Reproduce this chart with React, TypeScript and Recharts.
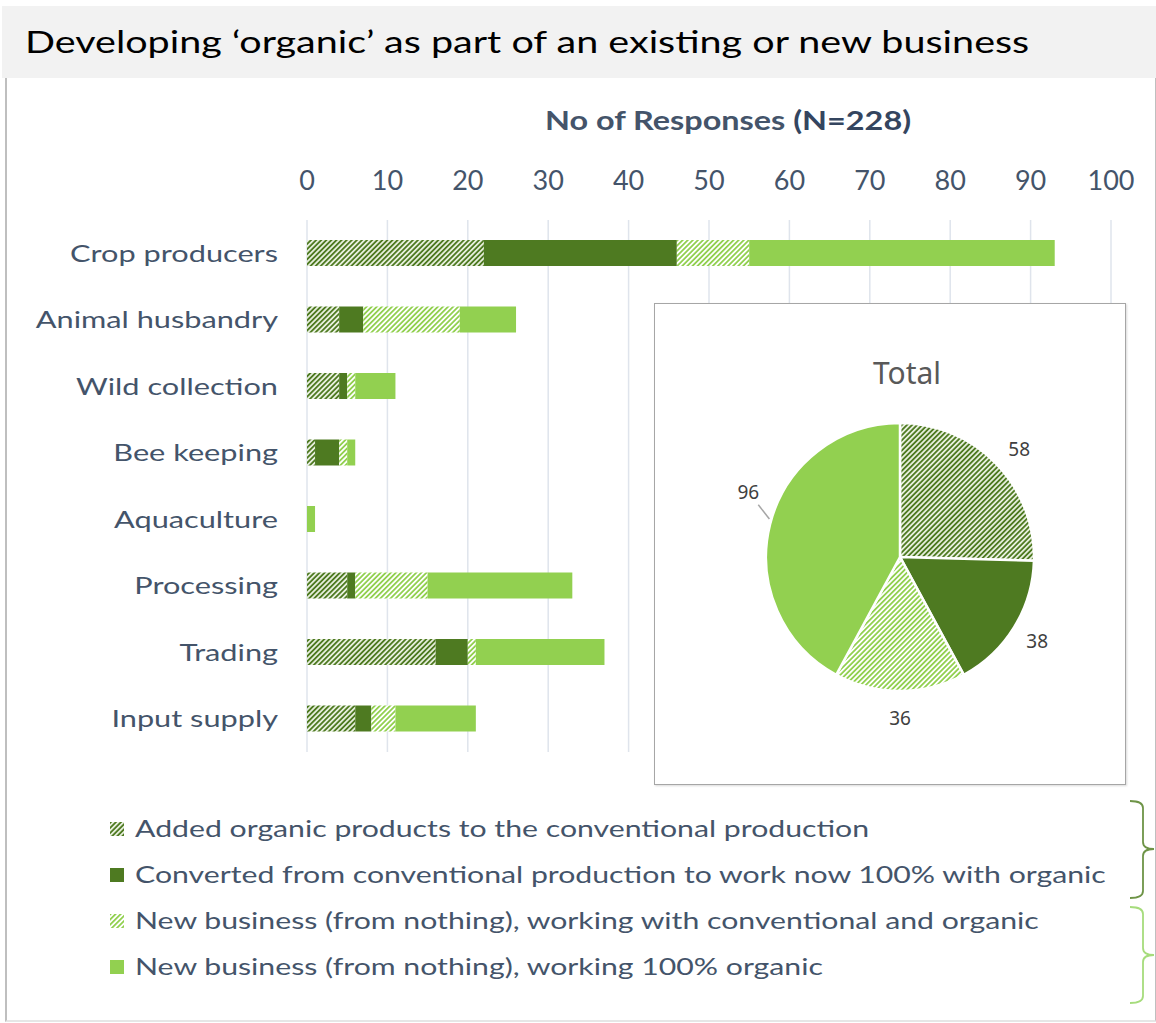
import React from 'react';
import { BarChart, Bar, XAxis, YAxis, CartesianGrid, PieChart, Pie, Cell } from 'recharts';

const categories = ['Crop producers', 'Animal husbandry', 'Wild collection', 'Bee keeping', 'Aquaculture', 'Processing', 'Trading', 'Input supply'];
const addedOrganic = [22, 4, 4, 1, 0, 5, 16, 6];
const convertedOrganic = [24, 3, 1, 3, 0, 1, 4, 2];
const newMixed = [9, 12, 1, 1, 0, 9, 1, 3];
const newOrganic = [38, 7, 5, 1, 1, 18, 16, 10];
const xTicks = [0, 10, 20, 30, 40, 50, 60, 70, 80, 90, 100];
const seriesNames = [
  'Added organic products to the conventional production',
  'Converted from conventional production to work now 100% with organic',
  'New business (from nothing), working with conventional and organic',
  'New business (from nothing), working 100% organic',
];
const pieTotals = [58, 38, 36, 96];

const fills = ['url(#hatchDark)', '#4e7a21', 'url(#hatchLight)', '#92d050'];
const seriesKeys = ['added', 'converted', 'newMixed', 'newOrganic'];

const barData = categories.map((c, i) => ({
  category: c,
  added: addedOrganic[i],
  converted: convertedOrganic[i],
  newMixed: newMixed[i],
  newOrganic: newOrganic[i],
}));

const pieData = seriesNames.map((n, i) => ({ name: n, value: pieTotals[i] }));

const TEXT = '#44546a';
const FONT = 'Lato, "Open Sans", sans-serif';
const STRETCH = 1.28;
const RAD = Math.PI / 180;

const PieLabel = (props: any) => {
  const { cx, cy, midAngle, outerRadius, value, percent } = props;
  const big = percent > 0.4;
  const ang = big ? midAngle - 9 : midAngle - (percent > 0.2 ? 2 : 0);
  const r = outerRadius + (big ? 31 : 27);
  const x = cx + r * Math.cos(-ang * RAD);
  const y = cy + r * Math.sin(-ang * RAD);
  const lx1 = cx + (outerRadius + 2) * Math.cos(-(midAngle - 2) * RAD);
  const ly1 = cy + (outerRadius + 2) * Math.sin(-(midAngle - 2) * RAD);
  const lx2 = cx + (outerRadius + 17) * Math.cos(-(midAngle - 6) * RAD);
  const ly2 = cy + (outerRadius + 17) * Math.sin(-(midAngle - 6) * RAD);
  return (
    <g>
      {big && <line x1={lx1} y1={ly1} x2={lx2} y2={ly2} stroke="#a6a6a6" strokeWidth={1.5} />}
      <text x={x} y={y} textAnchor="middle" dominantBaseline="central" fill="#404040" fontSize={19} fontFamily='"Noto Sans", sans-serif'>
        {value}
      </text>
    </g>
  );
};

const CategoryTick = (props: any) => {
  const { x, y, payload } = props;
  return (
    <text transform={`translate(${x},${y}) scale(${STRETCH},1)`} textAnchor="end" dy="0.36em" fill={TEXT} fontSize={24} fontFamily={FONT}>
      {payload.value}
    </text>
  );
};

export default function App() {
  return (
    <div style={{ position: 'absolute', left: 0, top: 0, width: 1156, height: 1023, background: '#fff', fontFamily: FONT, overflow: 'hidden' }}>
      <svg width={0} height={0} style={{ position: 'absolute' }}>
        <defs>
          <pattern id="hatchDark" patternUnits="userSpaceOnUse" width={3.6} height={3.6} patternTransform="rotate(45)">
            <rect x={0} y={0} width={3.6} height={3.6} fill="#e6eedc" />
            <line x1={0.9} y1={0} x2={0.9} y2={3.6} stroke="#4e7a21" strokeWidth={1.8} />
          </pattern>
          <pattern id="hatchLight" patternUnits="userSpaceOnUse" width={3.6} height={3.6} patternTransform="rotate(45)">
            <rect x={0} y={0} width={3.6} height={3.6} fill="#ffffff" />
            <line x1={0.9} y1={0} x2={0.9} y2={3.6} stroke="#92d050" strokeWidth={1.8} />
          </pattern>
        </defs>
      </svg>

      {/* title band */}
      <div style={{ position: 'absolute', left: 2, top: 6, width: 1154, height: 72, background: '#f2f2f2' }} />
      {/* frame */}
      <div style={{ position: 'absolute', left: 5, top: 78, width: 1148, height: 942, borderLeft: '2px solid #bfbfbf', borderRight: '2px solid #bfbfbf', borderBottom: '2px solid #e6e6e6' }} />

      <div style={{ position: 'absolute', left: 0, top: 0 }}>
        <BarChart width={1156} height={800} data={barData} layout="vertical" margin={{ top: 150, right: 45, bottom: 48, left: 0 }} barSize={26}>
          <CartesianGrid horizontal={false} vertical stroke="#dfe4ec" strokeWidth={1.5} />
          <XAxis
            type="number"
            orientation="top"
            domain={[0, 100]}
            ticks={xTicks}
            height={70}
            axisLine={false}
            tickLine={false}
            tickMargin={24}
            tick={{ fill: TEXT, fontSize: 27, fontFamily: FONT }}
          />
          <YAxis
            type="category"
            dataKey="category"
            width={307}
            axisLine={false}
            tickLine={false}
            tickMargin={23}
            tick={<CategoryTick />}
          />
          {seriesKeys.map((k, i) => (
            <Bar key={k} dataKey={k} name={seriesNames[i]} stackId="a" fill={fills[i]} isAnimationActive={false} />
          ))}
        </BarChart>
      </div>

      {/* pie inset */}
      <div style={{ position: 'absolute', left: 654, top: 303, width: 470, height: 480, border: '1.5px solid #a6a6a6', background: '#fff', boxShadow: '1px 1px 2px rgba(0,0,0,0.15)' }}>
        <div style={{ position: 'absolute', left: 0, width: 470, top: 48, textAlign: 'center', fontSize: 30, color: '#595959', fontFamily: '"Noto Sans", sans-serif', paddingLeft: 34, boxSizing: 'border-box' }}>
          Total
        </div>
        <div style={{ position: 'absolute', left: 0, top: 0 }}>
          <PieChart width={470} height={480} margin={{ top: 0, right: 0, bottom: 0, left: 0 }}>
            <Pie
              data={pieData}
              dataKey="value"
              cx={245}
              cy={253}
              outerRadius={134}
              startAngle={90}
              endAngle={-270}
              stroke="#ffffff"
              strokeWidth={2.5}
              label={PieLabel}
              labelLine={false}
              isAnimationActive={false}
            >
              {pieData.map((d, i) => (
                <Cell key={d.name} fill={fills[i]} />
              ))}
            </Pie>
          </PieChart>
        </div>
      </div>

      {/* texts, legend and brackets */}
      <svg width={1156} height={1023} style={{ position: 'absolute', left: 0, top: 0, pointerEvents: 'none' }}>
        <text transform="translate(25,53) scale(1.275,1)" fontSize={31} fill="#000" fontFamily={FONT}>
          Developing ‘organic’ as part of an existing or new business
        </text>
        <text transform="translate(545,130) scale(1.2,1)" fontSize={27} fontWeight={700} fill={TEXT} fontFamily={FONT}>
          No of Responses <tspan fill="#34455f">(N=228)</tspan>
        </text>
        {seriesNames.map((n, i) => {
          const baseline = 837 + i * 46;
          return (
            <g key={n}>
              <rect x={110} y={baseline - 15} width={14} height={14} fill={fills[i]} />
              <text transform={`translate(135,${baseline}) scale(1.26,1)`} fontSize={24} fill={TEXT} fontFamily={FONT}>
                {n}
              </text>
            </g>
          );
        })}
        <path d="M1130 801 Q1143 801 1143 808 L1143 842 Q1143 849 1154 849 Q1143 849 1143 856 L1143 891 Q1143 898 1130 898" fill="none" stroke="#6e9447" strokeWidth={1.8} />
        <path d="M1130 907 Q1143 907 1143 914 L1143 948 Q1143 955 1154 955 Q1143 955 1143 962 L1143 996 Q1143 1003 1130 1003" fill="none" stroke="#a6dc7c" strokeWidth={1.8} />
      </svg>
    </div>
  );
}
